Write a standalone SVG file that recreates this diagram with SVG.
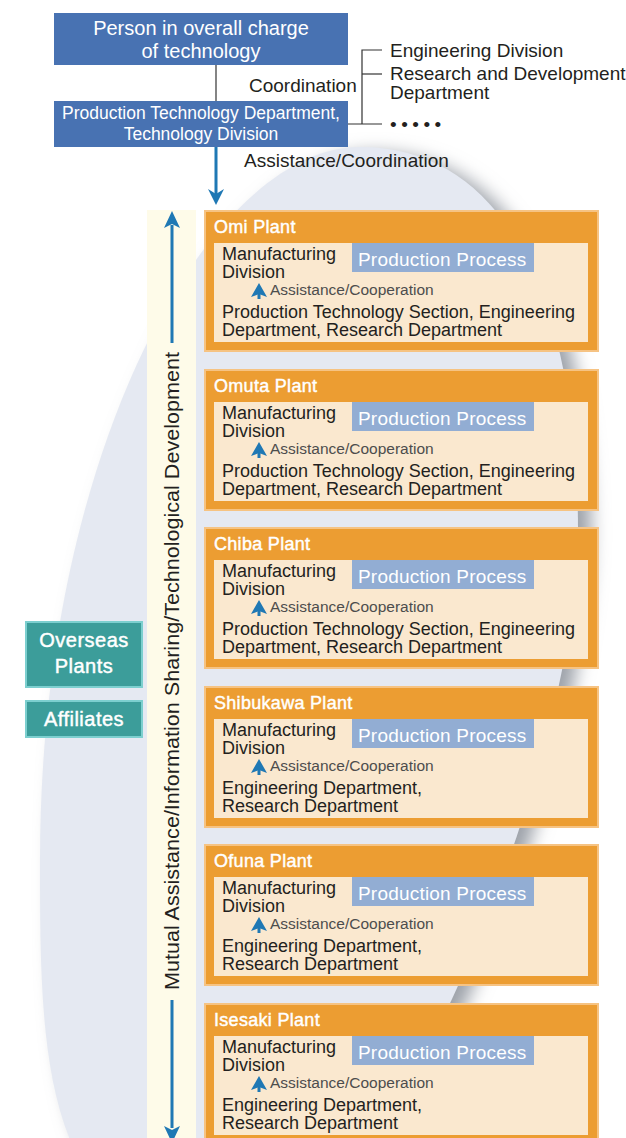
<svg xmlns="http://www.w3.org/2000/svg" width="626" height="1138" viewBox="0 0 626 1138">
<defs>
<style>
text{font-family:"Liberation Sans",Arial,sans-serif;}
.top{fill:#4872b2;}
.tw{fill:#fff;font-size:20px;text-anchor:middle;}
.tw2{fill:#fff;font-size:17.5px;text-anchor:middle;}
.dk{fill:#231f20;font-size:19px;}
.ln{stroke:#333;stroke-width:1.2;fill:none;}
.plant{fill:#ec9d32;stroke:#f6c383;stroke-width:2;}
.panel{fill:#fae8cf;}
.pp{fill:#92add3;}
.ppt{fill:#fff;font-size:19px;letter-spacing:0.2px;}
.title{fill:#fff;font-size:18px;letter-spacing:0.3px;stroke:#fff;stroke-width:0.45px;}
.body{fill:#231f20;font-size:18px;}
.asst{fill:#4d4d4d;font-size:15.5px;}
.blue{fill:#1f78b4;}
.teal{fill:#3c9d9a;stroke:#7ccfcf;stroke-width:2;}
.tt{fill:#fff;font-size:20px;letter-spacing:0.5px;text-anchor:middle;stroke:#fff;stroke-width:0.45px;}
</style>
<filter id="sh" x="-20%" y="-20%" width="140%" height="140%">
<feGaussianBlur stdDeviation="9"/>
</filter>
<g id="sa">
<polygon points="0,0 -8,14 0,11 8,14" class="blue"/>
<rect x="-1.5" y="9" width="3" height="7" class="blue"/>
</g>
</defs>
<rect width="626" height="1138" fill="#fff"/>
<g id="background">
<path d="M360,147 C520,147 578,330 578,530 C578,780 370,1250 250,1250 C40,1250 40,1060 40,860 C40,450 210,147 360,147 Z" fill="#9ca1a9" filter="url(#sh)" transform="translate(13,6)"/>
<path d="M360,147 C520,147 578,330 578,530 C578,780 370,1250 250,1250 C40,1250 40,1060 40,860 C40,450 210,147 360,147 Z" fill="#e5e9f2"/>
<rect x="147" y="210" width="49" height="928" fill="#fefbe9"/>
</g>
<g id="connectors">
<line class="ln" x1="216" y1="65" x2="216" y2="101"/>
<polyline class="ln" points="382,50 362,50 362,124"/>
<line class="ln" x1="362" y1="74" x2="382" y2="74"/>
<line class="ln" x1="348" y1="124" x2="382" y2="124"/>
<rect x="214.5" y="147" width="3" height="47" class="blue"/>
<polygon points="216,205 208,189 216,194 224,189" class="blue"/>
<rect x="170.5" y="225" width="3" height="118" class="blue"/>
<polygon points="172,211 164,228 172,224 180,228" class="blue"/>
<rect x="170.5" y="1000" width="3" height="128" class="blue"/>
<polygon points="172,1143 164,1126 172,1130 180,1126" class="blue"/>
<text class="dk" x="249" y="92" font-size="18.5">Coordination</text>
<text class="dk" x="244" y="167">Assistance/Coordination</text>
<text fill="#231f20" font-size="21" transform="translate(179,671) rotate(-90)" text-anchor="middle" textLength="638" lengthAdjust="spacingAndGlyphs">Mutual Assistance/Information Sharing/Technological Development</text>
</g>
<g id="n-person">
<rect class="top" x="54" y="13" width="294" height="52"/>
<text class="tw" x="201" y="35">Person in overall charge</text>
<text class="tw" x="201" y="58">of technology</text>
</g>
<g id="n-ptd">
<rect class="top" x="54" y="101" width="294" height="46"/>
<text class="tw2" x="201" y="119">Production Technology Department,</text>
<text class="tw2" x="201" y="140">Technology Division</text>
</g>
<g id="n-divisions">
<text class="dk" x="390" y="57">Engineering Division</text>
<text class="dk" x="390" y="80">Research and Development</text>
<text class="dk" x="390" y="99">Department</text>
<text class="dk" x="390" y="131" font-size="18" letter-spacing="4.5">•••••</text>
</g>
<g id="n-overseas">
<rect class="teal" x="26" y="622" width="116" height="65"/>
<text class="tt" x="84" y="647">Overseas</text>
<text class="tt" x="84" y="673">Plants</text>
</g>
<g id="n-affiliates">
<rect class="teal" x="26" y="701" width="116" height="36"/>
<text class="tt" x="84" y="726">Affiliates</text>
</g>
<g id="n-omi" transform="translate(0,210)">
<rect class="plant" x="205" y="1" width="393" height="140"/>
<text class="title" x="214" y="23">Omi Plant</text>
<rect class="panel" x="214" y="33" width="374" height="99"/>
<rect class="pp" x="352" y="33" width="182" height="29"/>
<text class="ppt" x="358" y="56">Production Process</text>
<text class="body" x="222" y="50">Manufacturing</text>
<text class="body" x="222" y="68">Division</text>
<use href="#sa" x="259" y="73"/>
<text class="asst" x="270" y="85">Assistance/Cooperation</text>
<text class="body" x="222" y="108">Production Technology Section, Engineering</text>
<text class="body" x="222" y="126">Department, Research Department</text>
</g>
<g id="n-omuta" transform="translate(0,369)">
<rect class="plant" x="205" y="1" width="393" height="140"/>
<text class="title" x="214" y="23">Omuta Plant</text>
<rect class="panel" x="214" y="33" width="374" height="99"/>
<rect class="pp" x="352" y="33" width="182" height="29"/>
<text class="ppt" x="358" y="56">Production Process</text>
<text class="body" x="222" y="50">Manufacturing</text>
<text class="body" x="222" y="68">Division</text>
<use href="#sa" x="259" y="73"/>
<text class="asst" x="270" y="85">Assistance/Cooperation</text>
<text class="body" x="222" y="108">Production Technology Section, Engineering</text>
<text class="body" x="222" y="126">Department, Research Department</text>
</g>
<g id="n-chiba" transform="translate(0,527)">
<rect class="plant" x="205" y="1" width="393" height="140"/>
<text class="title" x="214" y="23">Chiba Plant</text>
<rect class="panel" x="214" y="33" width="374" height="99"/>
<rect class="pp" x="352" y="33" width="182" height="29"/>
<text class="ppt" x="358" y="56">Production Process</text>
<text class="body" x="222" y="50">Manufacturing</text>
<text class="body" x="222" y="68">Division</text>
<use href="#sa" x="259" y="73"/>
<text class="asst" x="270" y="85">Assistance/Cooperation</text>
<text class="body" x="222" y="108">Production Technology Section, Engineering</text>
<text class="body" x="222" y="126">Department, Research Department</text>
</g>
<g id="n-shibukawa" transform="translate(0,686)">
<rect class="plant" x="205" y="1" width="393" height="140"/>
<text class="title" x="214" y="23">Shibukawa Plant</text>
<rect class="panel" x="214" y="33" width="374" height="99"/>
<rect class="pp" x="352" y="33" width="182" height="29"/>
<text class="ppt" x="358" y="56">Production Process</text>
<text class="body" x="222" y="50">Manufacturing</text>
<text class="body" x="222" y="68">Division</text>
<use href="#sa" x="259" y="73"/>
<text class="asst" x="270" y="85">Assistance/Cooperation</text>
<text class="body" x="222" y="108">Engineering Department,</text>
<text class="body" x="222" y="126">Research Department</text>
</g>
<g id="n-ofuna" transform="translate(0,844)">
<rect class="plant" x="205" y="1" width="393" height="140"/>
<text class="title" x="214" y="23">Ofuna Plant</text>
<rect class="panel" x="214" y="33" width="374" height="99"/>
<rect class="pp" x="352" y="33" width="182" height="29"/>
<text class="ppt" x="358" y="56">Production Process</text>
<text class="body" x="222" y="50">Manufacturing</text>
<text class="body" x="222" y="68">Division</text>
<use href="#sa" x="259" y="73"/>
<text class="asst" x="270" y="85">Assistance/Cooperation</text>
<text class="body" x="222" y="108">Engineering Department,</text>
<text class="body" x="222" y="126">Research Department</text>
</g>
<g id="n-isesaki" transform="translate(0,1003)">
<rect class="plant" x="205" y="1" width="393" height="140"/>
<text class="title" x="214" y="23">Isesaki Plant</text>
<rect class="panel" x="214" y="33" width="374" height="99"/>
<rect class="pp" x="352" y="33" width="182" height="29"/>
<text class="ppt" x="358" y="56">Production Process</text>
<text class="body" x="222" y="50">Manufacturing</text>
<text class="body" x="222" y="68">Division</text>
<use href="#sa" x="259" y="73"/>
<text class="asst" x="270" y="85">Assistance/Cooperation</text>
<text class="body" x="222" y="108">Engineering Department,</text>
<text class="body" x="222" y="126">Research Department</text>
</g>
</svg>
